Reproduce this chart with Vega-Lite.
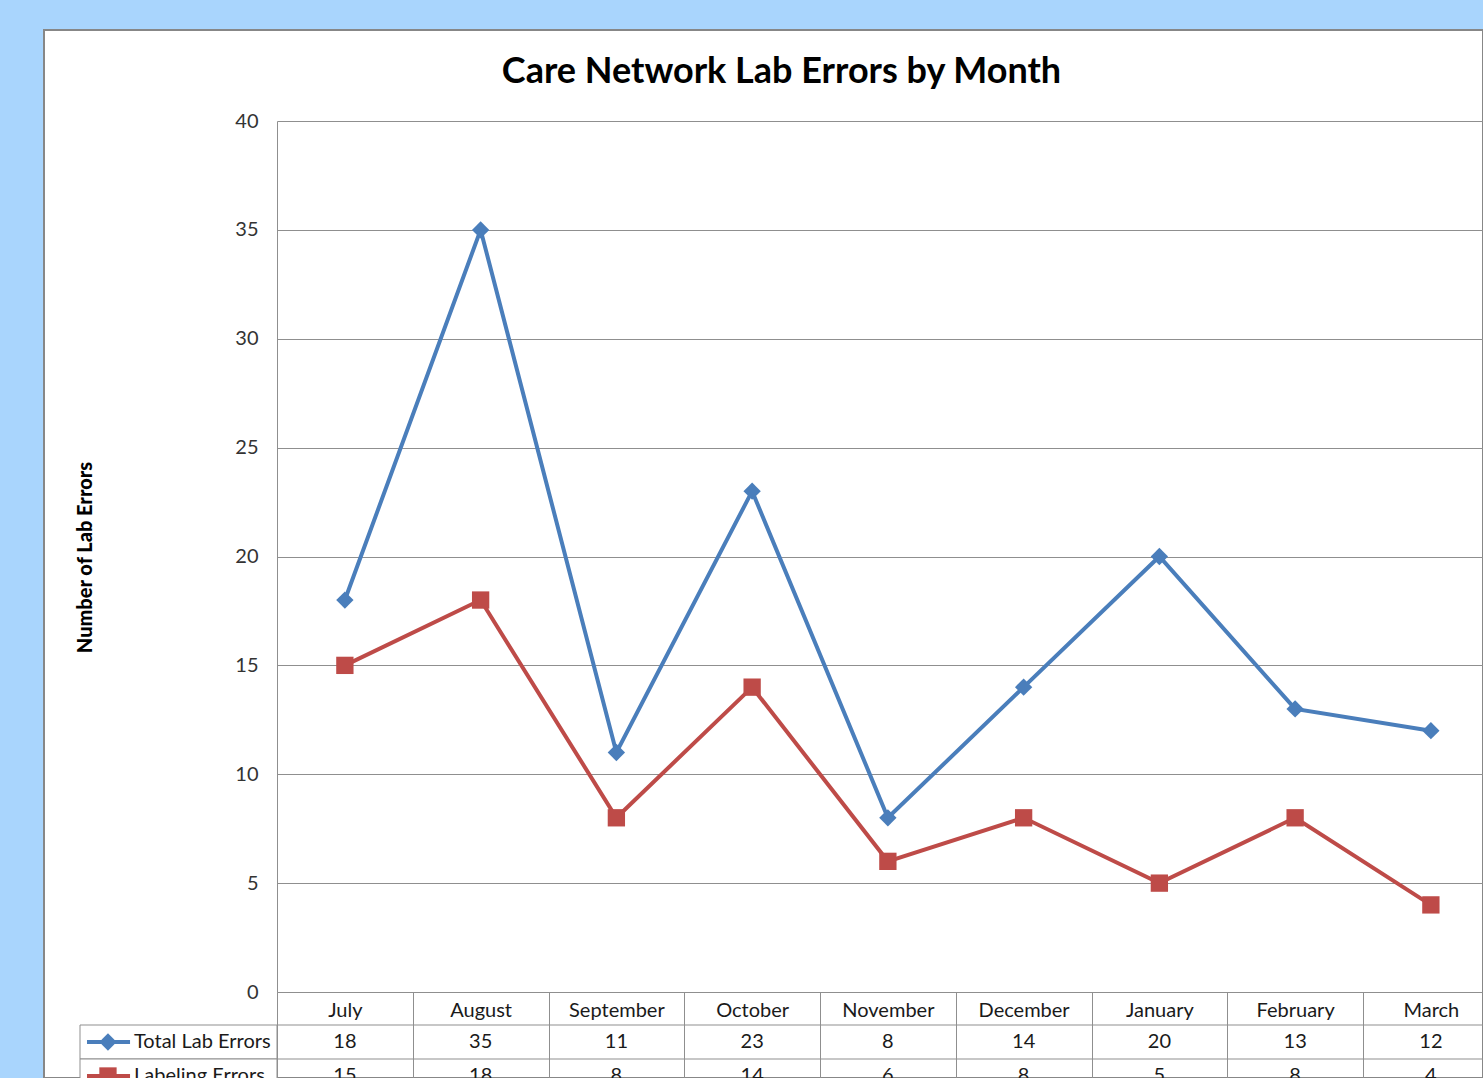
{
  "$schema": "https://vega.github.io/schema/vega-lite/v6.json",
  "width": 1439,
  "height": 1048,
  "autosize": {"type": "none"},
  "padding": {"left": 44, "top": 30, "right": 0, "bottom": 0},
  "background": "#A9D5FD",
  "config": {
    "view": {"fill": "white", "stroke": "#878787", "strokeWidth": 2},
    "legend": {"disable": true},
    "font": "Lato"
  },
  "title": {
    "text": "Care Network Lab Errors by Month",
    "fontSize": 36,
    "fontWeight": "bold",
    "font": "Lato",
    "color": "black",
    "anchor": "middle",
    "frame": "group",
    "baseline": "alphabetic",
    "offset": 0,
    "dy": 89,
    "dx": 18
  },
  "datasets": {
    "errors": [
      {"month": "July", "series": "Total Lab Errors", "value": 18},
      {"month": "August", "series": "Total Lab Errors", "value": 35},
      {"month": "September", "series": "Total Lab Errors", "value": 11},
      {"month": "October", "series": "Total Lab Errors", "value": 23},
      {"month": "November", "series": "Total Lab Errors", "value": 8},
      {"month": "December", "series": "Total Lab Errors", "value": 14},
      {"month": "January", "series": "Total Lab Errors", "value": 20},
      {"month": "February", "series": "Total Lab Errors", "value": 13},
      {"month": "March", "series": "Total Lab Errors", "value": 12},
      {"month": "July", "series": "Labeling Errors", "value": 15},
      {"month": "August", "series": "Labeling Errors", "value": 18},
      {"month": "September", "series": "Labeling Errors", "value": 8},
      {"month": "October", "series": "Labeling Errors", "value": 14},
      {"month": "November", "series": "Labeling Errors", "value": 6},
      {"month": "December", "series": "Labeling Errors", "value": 8},
      {"month": "January", "series": "Labeling Errors", "value": 5},
      {"month": "February", "series": "Labeling Errors", "value": 8},
      {"month": "March", "series": "Labeling Errors", "value": 4}
    ]
  },
  "data": {"name": "errors"},
  "resolve": {
    "scale": {"x": "independent", "y": "independent"},
    "axis": {"x": "independent", "y": "independent"}
  },
  "layer": [
    {
      "encoding": {
        "x": {
          "field": "month",
          "type": "nominal",
          "sort": ["July", "August", "September", "October", "November", "December", "January", "February", "March"],
          "scale": {
            "type": "band",
            "domain": ["July", "August", "September", "October", "November", "December", "January", "February", "March"],
            "range": [233, 1454.75],
            "paddingInner": 0,
            "paddingOuter": 0
          },
          "axis": {
            "orient": "bottom",
            "offset": -86,
            "title": null,
            "grid": false,
            "domainColor": "#8f8f8f",
            "domainWidth": 1,
            "tickBand": "extent",
            "tickSize": 120,
            "tickColor": "#8f8f8f",
            "tickWidth": 1,
            "labelPadding": -112,
            "labelFontSize": 20,
            "labelColor": "#1a1a1a",
            "labelAngle": 0,
            "labelFont": "Lato"
          }
        },
        "y": {
          "field": "value",
          "type": "quantitative",
          "scale": {"domain": [0, 40], "range": [962, 91], "nice": false, "zero": false},
          "axis": {
            "orient": "left",
            "offset": -233,
            "values": [0, 5, 10, 15, 20, 25, 30, 35, 40],
            "grid": true,
            "gridColor": "#8f8f8f",
            "gridWidth": 1,
            "ticks": false,
            "domainColor": "#8f8f8f",
            "domainWidth": 1,
            "labelPadding": 19,
            "labelFontSize": 20,
            "labelColor": "#333333",
            "labelFont": "Lato",
            "title": "Number of Lab Errors",
            "titleFont": "Lato",
            "titleFontSize": 20,
            "titleFontWeight": 900,
            "titleColor": "black",
            "titleX": -192,
            "titleY": 527,
            "titleAngle": -90,
            "titleBaseline": "middle",
            "titleAlign": "center"
          }
        },
        "color": {
          "field": "series",
          "type": "nominal",
          "scale": {"domain": ["Total Lab Errors", "Labeling Errors"], "range": ["#4A7EBB", "#BE4B48"]}
        }
      },
      "layer": [
        {"mark": {"type": "line", "strokeWidth": 4}},
        {
          "mark": {"type": "point", "filled": true, "opacity": 1, "size": 300},
          "encoding": {
            "shape": {
              "field": "series",
              "type": "nominal",
              "scale": {"domain": ["Total Lab Errors", "Labeling Errors"], "range": ["diamond", "square"]}
            }
          }
        }
      ]
    },
    {
      "transform": [{"aggregate": [{"op": "count", "as": "n"}], "groupby": ["series"]}],
      "encoding": {
        "y": {
          "field": "series",
          "type": "nominal",
          "scale": {
            "type": "band",
            "domain": ["Total Lab Errors", "Labeling Errors"],
            "range": [995, 1063],
            "paddingInner": 0,
            "paddingOuter": 0
          },
          "axis": null
        }
      },
      "layer": [
        {
          "mark": {"type": "rect", "fill": "white", "stroke": "#8f8f8f", "strokeWidth": 1},
          "encoding": {
            "x": {"datum": 0, "type": "quantitative", "scale": {"domain": [0, 1], "range": [36, 233]}, "axis": null},
            "x2": {"datum": 1}
          }
        },
        {
          "mark": {"type": "rule", "color": "#8f8f8f", "strokeWidth": 1},
          "encoding": {
            "x": {"datum": 1, "type": "quantitative"},
            "x2": {"datum": 8},
            "y": {"field": "series", "type": "nominal", "bandPosition": 0}
          }
        },
        {
          "mark": {"type": "rule", "strokeWidth": 4},
          "encoding": {
            "x": {"datum": 0.0355, "type": "quantitative"},
            "x2": {"datum": 0.254},
            "color": {"field": "series", "type": "nominal"}
          }
        },
        {
          "mark": {"type": "point", "filled": true, "opacity": 1, "size": 300},
          "encoding": {
            "x": {"datum": 0.142, "type": "quantitative"},
            "color": {"field": "series", "type": "nominal"},
            "shape": {"field": "series", "type": "nominal"}
          }
        },
        {
          "mark": {"type": "text", "align": "left", "baseline": "middle", "fontSize": 20, "font": "Lato", "color": "#1a1a1a"},
          "encoding": {
            "x": {"datum": 0.274, "type": "quantitative"},
            "text": {"field": "series", "type": "nominal"}
          }
        }
      ]
    },
    {
      "mark": {"type": "text", "align": "center", "baseline": "middle", "fontSize": 20, "font": "Lato", "color": "#1a1a1a"},
      "encoding": {
        "x": {
          "field": "month",
          "type": "nominal",
          "scale": {
            "type": "band",
            "domain": ["July", "August", "September", "October", "November", "December", "January", "February", "March"],
            "range": [233, 1454.75],
            "paddingInner": 0,
            "paddingOuter": 0
          },
          "axis": null
        },
        "y": {
          "field": "series",
          "type": "nominal",
          "scale": {
            "type": "band",
            "domain": ["Total Lab Errors", "Labeling Errors"],
            "range": [995, 1063],
            "paddingInner": 0,
            "paddingOuter": 0
          },
          "axis": null
        },
        "text": {"field": "value", "type": "quantitative"}
      }
    }
  ]
}
